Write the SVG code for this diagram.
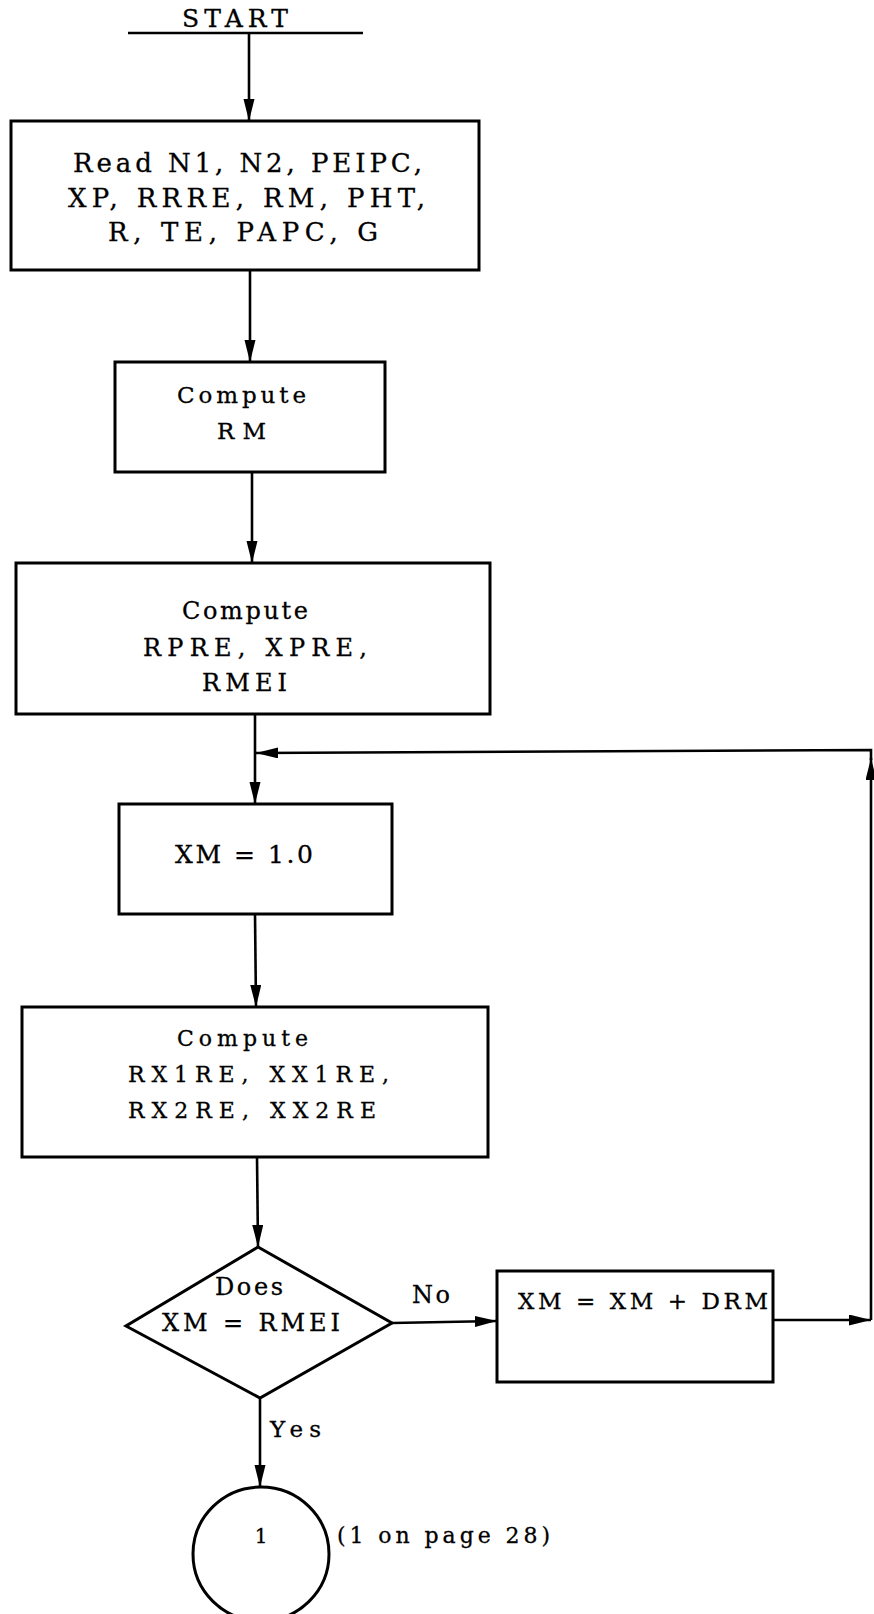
<svg xmlns="http://www.w3.org/2000/svg" width="874" height="1614" viewBox="0 0 874 1614">
<style>
.box{fill:none;stroke:#000;stroke-width:3}
.ln{fill:none;stroke:#000;stroke-width:2.6}
.t{font-family:"DejaVu Serif","Liberation Serif",serif;fill:#000;stroke:#000;stroke-width:0.3;text-anchor:middle}
</style>
<defs>
<marker id="ah" markerUnits="userSpaceOnUse" markerWidth="24" markerHeight="12" refX="22" refY="5.5" orient="auto">
<path d="M0,0 L22,5.5 L0,11 z" fill="#000"/>
</marker>
</defs>
<rect width="874" height="1614" fill="#fff"/>
<g id="start">
<text class="t" x="235" y="27" font-size="25" textLength="106">START</text>
<line class="ln" x1="128" y1="33" x2="363" y2="33"/>
</g>
<g id="connectors">
<path class="ln" d="M249,33 L249,121" marker-end="url(#ah)"/>
<path class="ln" d="M250,270 L250,362" marker-end="url(#ah)"/>
<path class="ln" d="M252,472 L252,563" marker-end="url(#ah)"/>
<path class="ln" d="M255,714 L255,804" marker-end="url(#ah)"/>
<path class="ln" d="M255,914 L256,1007" marker-end="url(#ah)"/>
<path class="ln" d="M257,1157 L258,1247" marker-end="url(#ah)"/>
<path class="ln" d="M392,1323 L497,1321" marker-end="url(#ah)"/>
<path class="ln" d="M260,1398 L260,1487" marker-end="url(#ah)"/>
<path class="ln" d="M773,1320 L871,1320" marker-end="url(#ah)"/>
<path class="ln" d="M871,1320 L871,758" marker-end="url(#ah)"/>
<path class="ln" d="M871,760 L871,750 L256,753" marker-end="url(#ah)"/>
</g>
<g id="read">
<rect class="box" x="11" y="121" width="468" height="149"/>
<text class="t" x="247.5" y="172" font-size="26" textLength="349">Read N1, N2, PEIPC,</text>
<text class="t" x="246.5" y="207" font-size="26" textLength="357">XP, RRRE, RM, PHT,</text>
<text class="t" x="243" y="241" font-size="26" textLength="270">R, TE, PAPC, G</text>
</g>
<g id="computeRM">
<rect class="box" x="115" y="362" width="270" height="110"/>
<text class="t" x="241.5" y="403" font-size="23" textLength="129">Compute</text>
<text class="t" x="241.5" y="439" font-size="23" textLength="49">RM</text>
</g>
<g id="computeRPRE">
<rect class="box" x="16" y="563" width="474" height="151"/>
<text class="t" x="245" y="619" font-size="24" textLength="126">Compute</text>
<text class="t" x="255" y="656" font-size="24" textLength="224">RPRE, XPRE,</text>
<text class="t" x="244.5" y="691" font-size="24" textLength="85">RMEI</text>
</g>
<g id="xmInit">
<rect class="box" x="119" y="804" width="273" height="110"/>
<text class="t" x="244" y="863" font-size="25" textLength="138">XM = 1.0</text>
</g>
<g id="computeRX">
<rect class="box" x="22" y="1007" width="466" height="150"/>
<text class="t" x="242.5" y="1046" font-size="22" textLength="131">Compute</text>
<text class="t" x="258.5" y="1082" font-size="22" textLength="261">RX1RE, XX1RE,</text>
<text class="t" x="252" y="1118" font-size="22" textLength="248">RX2RE, XX2RE</text>
</g>
<g id="decision">
<polygon class="box" points="258,1247 392,1323 260,1398 126,1326"/>
<text class="t" x="249" y="1295" font-size="24" textLength="68">Does</text>
<text class="t" x="251" y="1331" font-size="24" textLength="178">XM = RMEI</text>
<text class="t" x="431" y="1303" font-size="24" textLength="38">No</text>
<text class="t" x="295.5" y="1437" font-size="23" textLength="51">Yes</text>
</g>
<g id="increment">
<rect class="box" x="497" y="1271" width="276" height="111"/>
<text class="t" x="643" y="1309" font-size="23" textLength="250">XM = XM + DRM</text>
</g>
<g id="connector1">
<ellipse class="box" cx="261" cy="1554" rx="68" ry="67"/>
<text class="t" x="261" y="1543" font-size="20">1</text>
<text class="t" x="443.5" y="1543" font-size="22" textLength="213">(1 on page 28)</text>
</g>
</svg>
